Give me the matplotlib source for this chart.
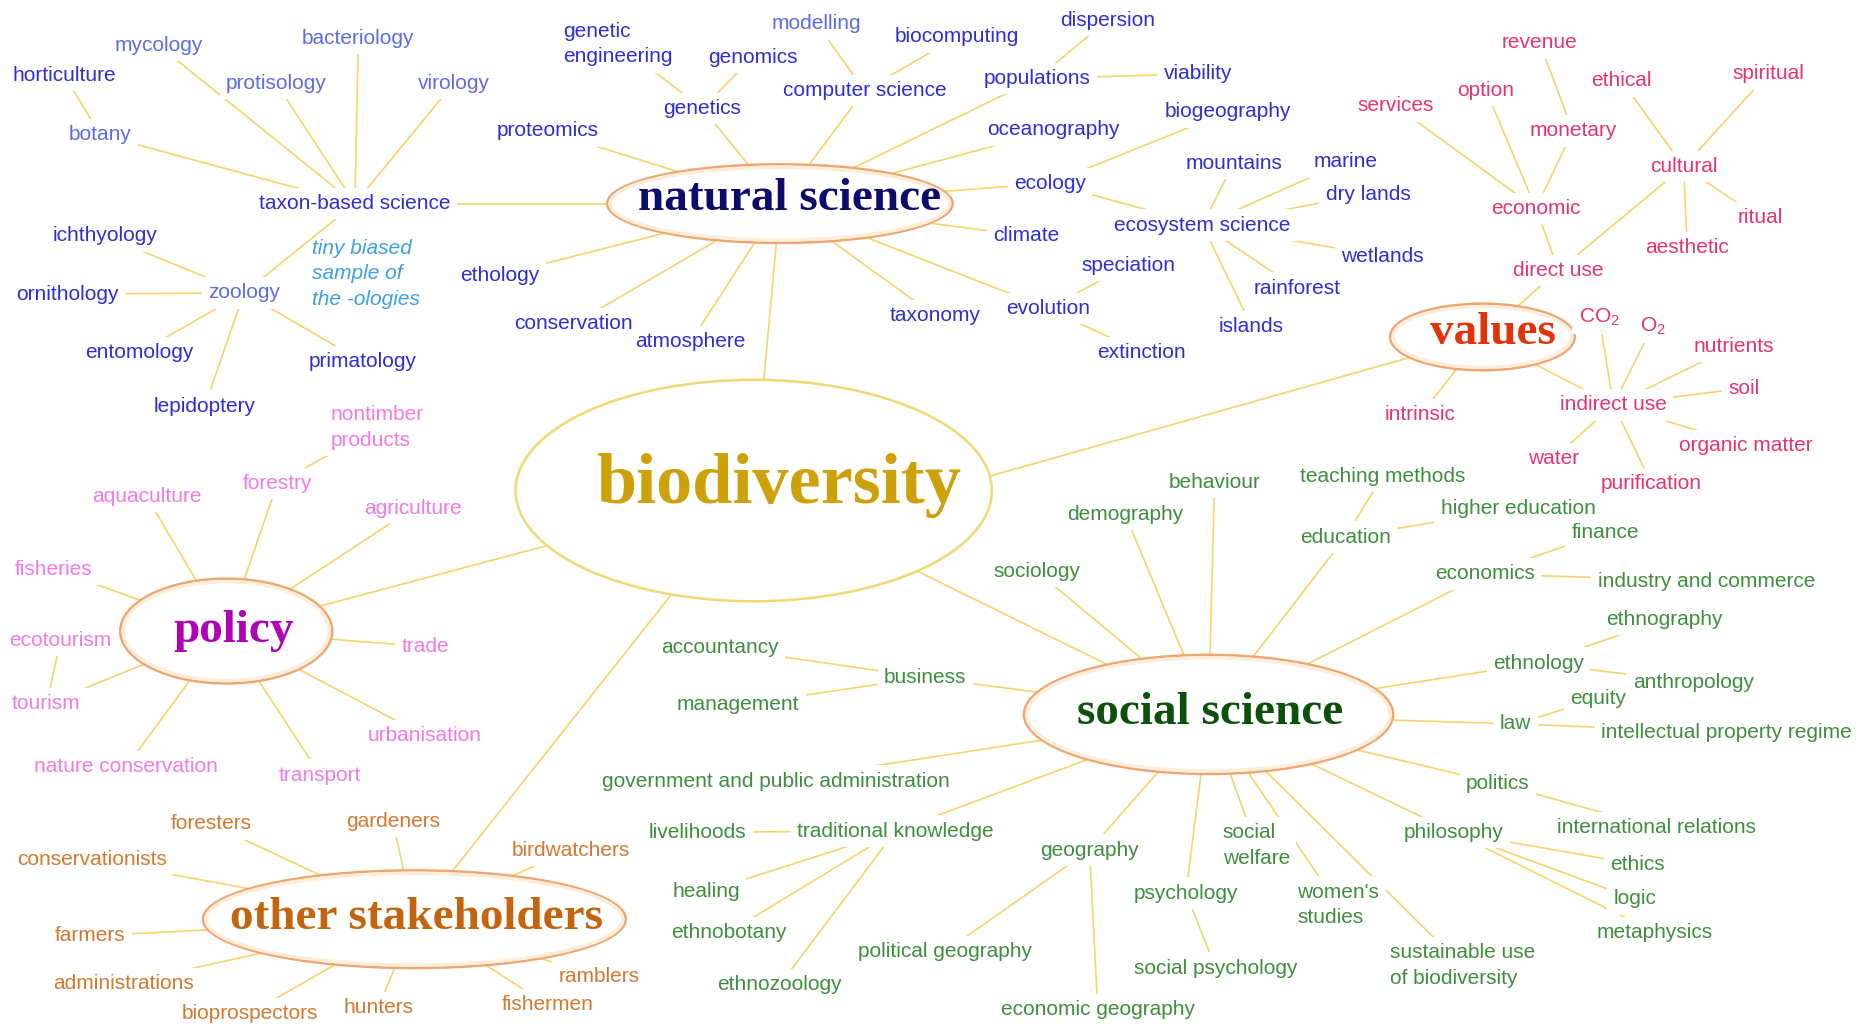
import matplotlib.pyplot as plt
from matplotlib.patches import Ellipse

plt.rcParams['mathtext.fontset'] = 'custom'
plt.rcParams['mathtext.rm'] = 'Liberation Sans'

### Mind map content (parent -> children)
hubs = ['biodiversity', 'natural science', 'values', 'policy',
        'other stakeholders', 'social science']

natural_science = ['taxon-based science', 'proteomics', 'genetics', 'computer science',
                   'populations', 'oceanography', 'ecology', 'climate', 'evolution',
                   'taxonomy', 'atmosphere', 'conservation', 'ethology']
taxon_based = ['mycology', 'bacteriology', 'protisology', 'virology', 'botany', 'zoology']
botany = ['horticulture']
zoology = ['ichthyology', 'ornithology', 'entomology', 'lepidoptery', 'primatology']
genetics = ['genetic\nengineering', 'genomics']
computer_science = ['modelling', 'biocomputing']
populations = ['dispersion', 'viability']
ecology = ['biogeography', 'ecosystem science']
ecosystem = ['mountains', 'marine', 'dry lands', 'wetlands', 'rainforest', 'islands']
evolution = ['speciation', 'extinction']

values = ['direct use', 'intrinsic', 'indirect use']
direct_use = ['economic', 'cultural']
economic = ['services', 'option', 'monetary']
monetary = ['revenue']
cultural = ['ethical', 'spiritual', 'ritual', 'aesthetic']
indirect_use = ['CO$_2$', 'O$_2$', 'nutrients', 'soil', 'organic matter',
                'purification', 'water']

policy = ['aquaculture', 'forestry', 'agriculture', 'fisheries', 'trade',
          'tourism', 'urbanisation', 'transport', 'nature conservation']
forestry = ['nontimber\nproducts']
tourism = ['ecotourism']

stakeholders = ['foresters', 'gardeners', 'birdwatchers', 'conservationists', 'farmers',
                'administrations', 'bioprospectors', 'hunters', 'fishermen', 'ramblers']

social_science = ['sociology', 'demography', 'behaviour', 'education', 'economics',
                  'ethnology', 'law', 'politics', 'philosophy',
                  'sustainable use\nof biodiversity', "women's\nstudies", 'social\nwelfare',
                  'psychology', 'geography', 'traditional knowledge',
                  'government and public administration', 'business']
education = ['teaching methods', 'higher education']
economics = ['finance', 'industry and commerce']
ethnology = ['ethnography', 'anthropology']
law = ['equity', 'intellectual property regime']
politics = ['international relations']
philosophy = ['ethics', 'logic', 'metaphysics']
psychology = ['social psychology']
geography = ['political geography', 'economic geography']
trad_knowledge = ['livelihoods', 'healing', 'ethnobotany', 'ethnozoology']
business = ['accountancy', 'management']

note = 'tiny biased\nsample of\nthe -ologies'

tree = {
    'biodiversity': hubs[1:],
    'natural science': natural_science, 'taxon-based science': taxon_based,
    'botany': botany, 'zoology': zoology, 'genetics': genetics,
    'computer science': computer_science, 'populations': populations,
    'ecology': ecology, 'ecosystem science': ecosystem, 'evolution': evolution,
    'values': values, 'direct use': direct_use, 'economic': economic,
    'monetary': monetary, 'cultural': cultural, 'indirect use': indirect_use,
    'policy': policy, 'forestry': forestry, 'tourism': tourism,
    'other stakeholders': stakeholders,
    'social science': social_science, 'education': education, 'economics': economics,
    'ethnology': ethnology, 'law': law, 'politics': politics, 'philosophy': philosophy,
    'psychology': psychology, 'geography': geography,
    'traditional knowledge': trad_knowledge, 'business': business,
}

### Layout (canvas units, 1568 x 860, y down)
hub_shape = {  # centre, width, height, text offset
    'biodiversity': ((633, 412), 400, 186, (21, -4)),
    'natural science': ((655, 171), 290, 66, (8, -4)),
    'values': ((1245, 283), 155, 56, (9, -3)),
    'policy': ((190, 530), 178, 88, (6, 0)),
    'other stakeholders': ((348, 772), 355, 82, (2, -1)),
    'social science': ((1015, 600), 310, 100, (1, -1)),
}
# where the biodiversity -> values line leaves the big ellipse
bio_values_anchor = (760, 420)
pos = {
    'taxon-based science': (298, 171), 'mycology': (133, 38), 'bacteriology': (301, 32),
    'protisology': (232, 70), 'virology': (381, 70), 'botany': (84, 113),
    'horticulture': (54, 63), 'zoology': (205, 246), 'ichthyology': (88, 198),
    'ornithology': (57, 247), 'entomology': (117, 296), 'lepidoptery': (172, 341),
    'primatology': (305, 304), 'proteomics': (460, 110), 'genetics': (590, 91),
    'genetic\nengineering': (519, 37), 'genomics': (632, 48),
    'computer science': (726, 76), 'modelling': (686, 20), 'biocomputing': (804, 31),
    'populations': (871, 66), 'dispersion': (930, 17), 'viability': (1006, 62),
    'oceanography': (885, 109), 'ecology': (882, 154), 'biogeography': (1031, 94),
    'ecosystem science': (1010, 189), 'mountains': (1036, 137), 'marine': (1130, 136),
    'dry lands': (1149, 163), 'wetlands': (1161, 215), 'rainforest': (1089, 242),
    'islands': (1051, 274), 'climate': (862, 198), 'evolution': (880, 259),
    'speciation': (948, 223), 'extinction': (959, 296), 'taxonomy': (785, 265),
    'atmosphere': (580, 287), 'conservation': (482, 272), 'ethology': (420, 231),
    'direct use': (1309, 227), 'economic': (1290, 175), 'services': (1172, 89),
    'option': (1248, 76), 'monetary': (1321, 110), 'revenue': (1293, 36),
    'cultural': (1414, 140), 'ethical': (1362, 68), 'spiritual': (1485, 62),
    'ritual': (1478, 183), 'aesthetic': (1417, 208), 'intrinsic': (1193, 348),
    'indirect use': (1355, 340), 'CO$_2$': (1343, 266), 'O$_2$': (1388, 274),
    'nutrients': (1456, 291), 'soil': (1465, 326), 'organic matter': (1466, 374),
    'purification': (1387, 406), 'water': (1305, 385),
    'aquaculture': (123, 417), 'forestry': (233, 406), 'nontimber\nproducts': (317, 359),
    'agriculture': (347, 427), 'fisheries': (45, 478), 'trade': (357, 543),
    'ecotourism': (51, 538), 'tourism': (39, 591), 'urbanisation': (357, 618),
    'transport': (269, 651), 'nature conservation': (106, 644),
    'foresters': (177, 692), 'gardeners': (330, 690), 'birdwatchers': (479, 714),
    'conservationists': (77, 722), 'farmers': (76, 786), 'administrations': (104, 826),
    'bioprospectors': (210, 851), 'hunters': (318, 846), 'fishermen': (460, 844),
    'ramblers': (503, 820),
    'sociology': (871, 480), 'demography': (945, 432), 'behaviour': (1020, 405),
    'education': (1130, 451), 'teaching methods': (1161, 400),
    'higher education': (1275, 427), 'economics': (1247, 482), 'finance': (1348, 447),
    'industry and commerce': (1433, 488), 'ethnology': (1292, 557),
    'ethnography': (1398, 520), 'anthropology': (1422, 573), 'law': (1273, 608),
    'equity': (1342, 587), 'intellectual property regime': (1450, 615),
    'politics': (1258, 658), 'international relations': (1391, 695),
    'philosophy': (1221, 699), 'ethics': (1375, 726), 'logic': (1373, 755),
    'metaphysics': (1390, 783), 'sustainable use\nof biodiversity': (1228, 811),
    "women's\nstudies": (1124, 760), 'social\nwelfare': (1055, 710),
    'psychology': (996, 750), 'social psychology': (1021, 813),
    'geography': (915, 714), 'political geography': (794, 799),
    'economic geography': (922, 848), 'traditional knowledge': (752, 698),
    'livelihoods': (586, 699), 'healing': (593, 749), 'ethnobotany': (612, 783),
    'ethnozoology': (655, 827), 'government and public administration': (652, 656),
    'business': (777, 569), 'accountancy': (605, 544), 'management': (620, 592),
}
for h in hubs:
    pos[h] = hub_shape[h][0]

### Styles
LINE = '#F6D46A'
hub_color = {'biodiversity': '#CDA10A', 'natural science': '#0C0C6E', 'values': '#E2320C',
             'policy': '#B000B6', 'other stakeholders': '#C4640F', 'social science': '#0B500B'}
branch_color = {'natural science': '#2E2ED2', 'values': '#E8346C', 'policy': '#F27AE6',
                'other stakeholders': '#D3782F', 'social science': '#3E8E3E'}
light_blue = ['mycology', 'bacteriology', 'protisology', 'virology', 'botany',
              'zoology', 'modelling']

parent = {c: p for p, cs in tree.items() for c in cs}
def branch(name):
    while parent.get(name, 'biodiversity') != 'biodiversity':
        name = parent[name]
    return name

fig = plt.figure(figsize=(18.67, 10.24), dpi=100)
ax = fig.add_axes([0, 0, 1, 1])
ax.set_xlim(0, 1568)
ax.set_ylim(860, 0)
ax.axis('off')

# connecting lines
for p, cs in tree.items():
    for c in cs:
        (x0, y0), (x1, y1) = pos[p], pos[c]
        if p == 'biodiversity' and c == 'values':
            x0, y0 = bio_values_anchor
        ax.plot([x0, x1], [y0, y1], color=LINE, lw=1.2, zorder=1,
                solid_capstyle='round')

# hub ellipses
for h in hubs:
    (cx, cy), w, hgt, (dx, dy) = hub_shape[h]
    if h == 'biodiversity':
        ax.add_patch(Ellipse((cx, cy), w, hgt, fc='white', ec='#F2D872', lw=1.8, zorder=2))
    else:
        ax.add_patch(Ellipse((cx, cy), w, hgt, fc='white', ec='#EFA56E', lw=1.8, zorder=2))
        ax.add_patch(Ellipse((cx, cy), w - 5, hgt - 5, fc='none', ec='#FDEEDC',
                             lw=2.5, zorder=2))
    ax.text(cx + dx, cy + dy, h, ha='center', va='center', color=hub_color[h],
            family='Liberation Serif', weight='bold',
            fontsize=52 if h == 'biodiversity' else 34, zorder=3)

# leaf labels
for name, (x, y) in pos.items():
    if name in hubs:
        continue
    col = branch_color[branch(name)]
    if name in light_blue:
        col = '#5C6CE2'
    ax.text(x, y, name, ha='center', va='center', multialignment='left',
            color=col, family='Liberation Sans', fontsize=15, linespacing=1.45,
            bbox=dict(boxstyle='square,pad=0.3', fc='white', ec='none'), zorder=3)

ax.text(262, 230, note, ha='left', va='center', color='#3CA0E2', style='italic',
        family='Liberation Sans', fontsize=15, linespacing=1.45, zorder=3)

fig.savefig('out.png', dpi=100)
